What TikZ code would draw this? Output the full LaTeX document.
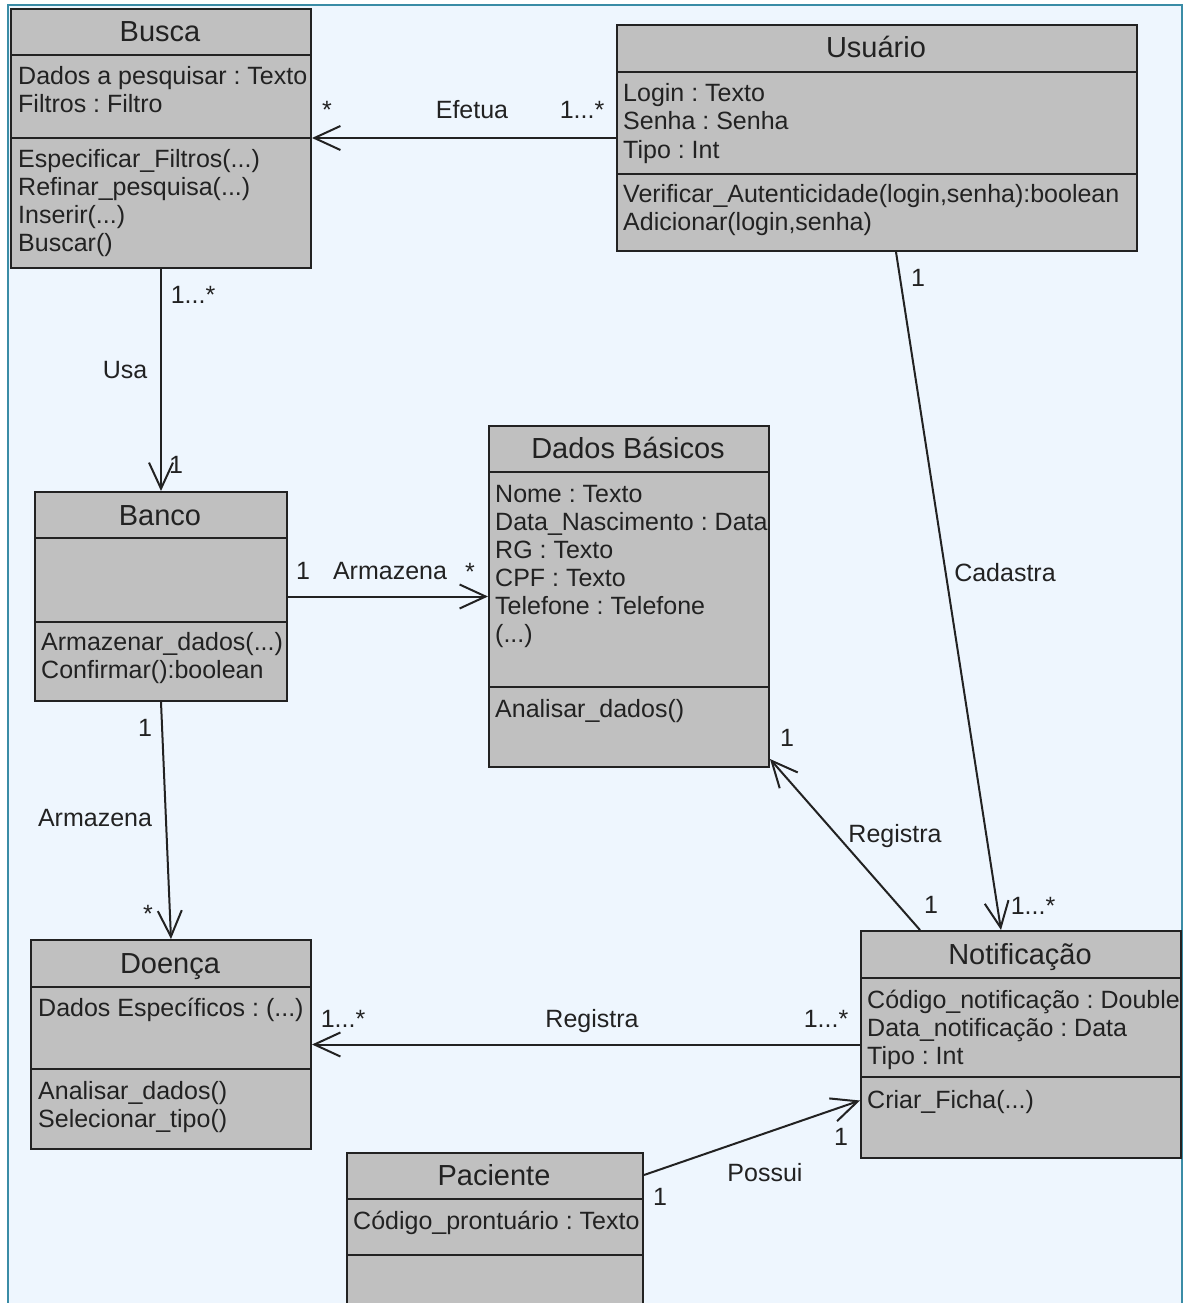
\documentclass[tikz,border=0pt]{standalone}
\usepackage{fontspec}
\setmainfont{Liberation Sans}
\usetikzlibrary{arrows.meta,calc}

\definecolor{pagebg}{RGB}{238,246,254}
\definecolor{framecol}{RGB}{58,140,166}
\definecolor{boxfill}{RGB}{192,192,192}
\definecolor{inkcol}{RGB}{34,34,34}

\newcommand\umlbody{\fontsize{25pt}{28pt}\selectfont}
\newcommand\umltitle{\fontsize{29pt}{34pt}\selectfont}

\tikzset{
  classbox/.style={rectangle, draw=inkcol, fill=boxfill, line width=2pt,
    inner sep=0pt, anchor=north west},
  divline/.style={draw=inkcol, line width=2pt},
  classname/.style={font=\umltitle, text=inkcol, anchor=base, inner sep=0pt},
  member/.style={font=\umlbody, text=inkcol, anchor=base west, inner sep=0pt},
  lbl/.style={font=\umlbody, text=inkcol, anchor=base, inner sep=0pt},
  assoc/.style={draw=inkcol, line width=2pt,
    -{Straight Barb[length=26pt,width=24pt,line width=2pt]}},
}

\begin{document}
\frenchspacing
\begin{tikzpicture}[x=1pt,y=-1pt]
  \clip (0,0) rectangle (1186,1303);
  \fill[white] (0,0) rectangle (1186,1303);

  % page frame
  \fill[pagebg] (8,5) rectangle (1182,1320);
  \draw[framecol, line width=2.5pt] (8,1320) -- (8,5) -- (1182,5) -- (1182,1320);

  % ---------- classes ----------
  % Busca
  \node[classbox, minimum width=300pt, minimum height=259pt] (busca) at (10,8) {};
  \draw[divline] (busca.west |- 0,55) -- (busca.east |- 0,55);
  \draw[divline] (busca.west |- 0,138) -- (busca.east |- 0,138);
  \node[classname] (busca-t) at (160,42) {Busca};
  \node[member] (busca-a1) at (18,85) {Dados a pesquisar : Texto};
  \node[member] (busca-a2) at (18,113) {Filtros : Filtro};
  \node[member] (busca-m1) at (18,167) {Especificar\_Filtros(...)};
  \node[member] (busca-m2) at (18,195) {Refinar\_pesquisa(...)};
  \node[member] (busca-m3) at (18,223) {Inserir(...)};
  \node[member] (busca-m4) at (18,251) {Buscar()};

  % Usuario
  \node[classbox, minimum width=520pt, minimum height=226pt] (usuario) at (616,24) {};
  \draw[divline] (usuario.west |- 0,72) -- (usuario.east |- 0,72);
  \draw[divline] (usuario.west |- 0,174) -- (usuario.east |- 0,174);
  \node[classname] (usuario-t) at (876,58) {Usuário};
  \node[member] (usuario-a1) at (623,102) {Login : Texto};
  \node[member] (usuario-a2) at (623,130) {Senha : Senha};
  \node[member] (usuario-a3) at (623,158) {Tipo : Int};
  \node[member] (usuario-m1) at (623,202) {Verificar\_Autenticidade(login,senha):boolean};
  \node[member] (usuario-m2) at (623,230) {Adicionar(login,senha)};

  % Banco
  \node[classbox, minimum width=252pt, minimum height=209pt] (banco) at (34,491) {};
  \draw[divline] (banco.west |- 0,538) -- (banco.east |- 0,538);
  \draw[divline] (banco.west |- 0,622) -- (banco.east |- 0,622);
  \node[classname] (banco-t) at (160,525) {Banco};
  \node[member] (banco-m1) at (41,650) {Armazenar\_dados(...)};
  \node[member] (banco-m2) at (41,678) {Confirmar():boolean};

  % Dados Basicos
  \node[classbox, minimum width=280pt, minimum height=341pt] (dados) at (488,425) {};
  \draw[divline] (dados.west |- 0,472) -- (dados.east |- 0,472);
  \draw[divline] (dados.west |- 0,687) -- (dados.east |- 0,687);
  \node[classname] (dados-t) at (628,458) {Dados Básicos};
  \node[member] (dados-a1) at (495,502) {Nome : Texto};
  \node[member] (dados-a2) at (495,530) {Data\_Nascimento : Data};
  \node[member] (dados-a3) at (495,558) {RG : Texto};
  \node[member] (dados-a4) at (495,586) {CPF : Texto};
  \node[member] (dados-a5) at (495,614) {Telefone : Telefone};
  \node[member] (dados-a6) at (495,642) {(...)};
  \node[member] (dados-m1) at (495,717) {Analisar\_dados()};

  % Doenca
  \node[classbox, minimum width=280pt, minimum height=209pt] (doenca) at (30,939) {};
  \draw[divline] (doenca.west |- 0,987) -- (doenca.east |- 0,987);
  \draw[divline] (doenca.west |- 0,1069) -- (doenca.east |- 0,1069);
  \node[classname] (doenca-t) at (170,973) {Doença};
  \node[member] (doenca-a1) at (38,1016) {Dados Específicos : (...)};
  \node[member] (doenca-m1) at (38,1099) {Analisar\_dados()};
  \node[member] (doenca-m2) at (38,1127) {Selecionar\_tipo()};

  % Notificacao
  \node[classbox, minimum width=320pt, minimum height=227pt] (notif) at (860,930) {};
  \draw[divline] (notif.west |- 0,978) -- (notif.east |- 0,978);
  \draw[divline] (notif.west |- 0,1077) -- (notif.east |- 0,1077);
  \node[classname] (notif-t) at (1020,964) {Notificação};
  \node[member] (notif-a1) at (867,1008) {Código\_notificação : Double};
  \node[member] (notif-a2) at (867,1036) {Data\_notificação : Data};
  \node[member] (notif-a3) at (867,1064) {Tipo : Int};
  \node[member] (notif-m1) at (867,1108) {Criar\_Ficha(...)};

  % Paciente
  \node[classbox, minimum width=296pt, minimum height=200pt] (paciente) at (346,1152) {};
  \draw[divline] (paciente.west |- 0,1199) -- (paciente.east |- 0,1199);
  \draw[divline] (paciente.west |- 0,1255) -- (paciente.east |- 0,1255);
  \node[classname] (paciente-t) at (494,1185) {Paciente};
  \node[member] (paciente-a1) at (353,1229) {Código\_prontuário : Texto};

  % ---------- associations ----------
  % Usuario -> Busca
  \draw[assoc] (usuario.west) -- (busca.east |- usuario.west);
  \node[lbl] (ef-m1) at (327,119) {*};
  \node[lbl] (ef-n) at (472,119) {Efetua};
  \node[lbl] (ef-m2) at (582,119) {1...*};

  % Busca -> Banco
  \draw[assoc] (busca.south) -- (banco.north);
  \node[lbl] (usa-m1) at (193,303) {1...*};
  \node[lbl] (usa-n) at (125,378) {Usa};
  \node[lbl] (usa-m2) at (176,473) {1};

  % Banco -> Dados Basicos
  \draw[assoc] (banco.east) -- (dados.west |- banco.east);
  \node[lbl] (arm1-m1) at (303,579) {1};
  \node[lbl] (arm1-n) at (390,579) {Armazena};
  \node[lbl] (arm1-m2) at (470,580) {*};

  % Banco -> Doenca
  \draw[assoc] (banco.south) -- (doenca.north);
  \node[lbl] (arm2-m1) at (145,736) {1};
  \node[lbl] (arm2-n) at (95,826) {Armazena};
  \node[lbl] (arm2-m2) at (148,922) {*};

  % Usuario -> Notificacao
  \draw[assoc] ($(usuario.south)+(19,0)$) -- ($(notif.north)+(-20,0)$);
  \node[lbl] (cad-m1) at (918,286) {1};
  \node[lbl] (cad-n) at (1005,581) {Cadastra};
  \node[lbl] (cad-m2) at (1033,914) {1...*};

  % Notificacao -> Dados Basicos
  \draw[assoc] ($(notif.north west)+(60,0)$) -- ($(dados.south east)+(0,-9)$);
  \node[lbl] (reg1-m1) at (787,746) {1};
  \node[lbl] (reg1-n) at (895,842) {Registra};
  \node[lbl] (reg1-m2) at (931,913) {1};

  % Notificacao -> Doenca
  \draw[assoc] (notif.west) -- (doenca.east |- notif.west);
  \node[lbl] (reg2-m1) at (343,1027) {1...*};
  \node[lbl] (reg2-n) at (592,1027) {Registra};
  \node[lbl] (reg2-m2) at (826,1027) {1...*};

  % Paciente -> Notificacao
  \draw[assoc] ($(paciente.north east)+(0,23)$) -- ($(notif.west)+(0,56)$);
  \node[lbl] (pos-m1) at (660,1205) {1};
  \node[lbl] (pos-n) at (765,1181) {Possui};
  \node[lbl] (pos-m2) at (841,1145) {1};
\end{tikzpicture}
\end{document}
